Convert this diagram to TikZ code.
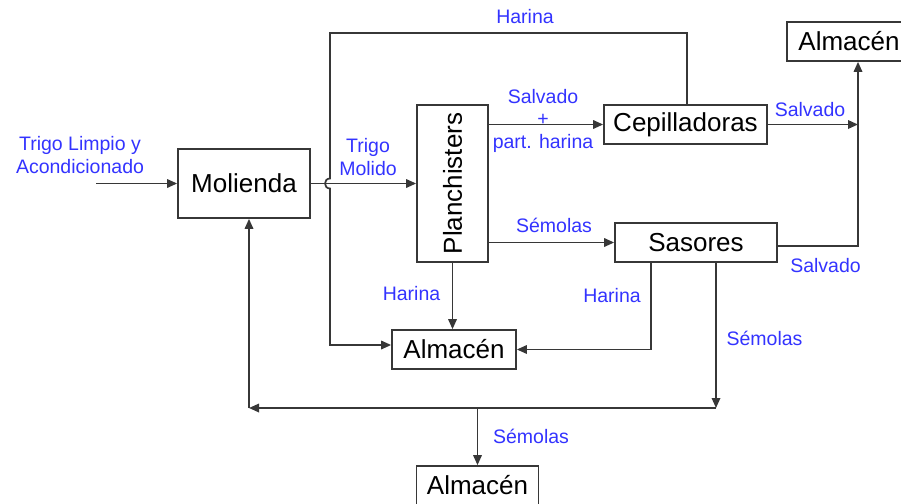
\documentclass[tikz,border=0pt]{standalone}
\usepackage{fontspec}
\setmainfont{Liberation Sans}
\usetikzlibrary{arrows.meta,calc}
\definecolor{flowblue}{RGB}{51,51,255}
\definecolor{linegray}{RGB}{55,55,55}
\begin{document}
\begin{tikzpicture}[x=1pt,y=-1pt,
  box/.style={draw=linegray, line width=1.7pt, inner sep=0pt, fill=white,
              font=\fontsize{26}{30}\selectfont},
  flow/.style={draw=linegray, line width=1.7pt},
  arr/.style={flow, -{Triangle[length=10pt,width=8.5pt]}},
  lbl/.style={text=flowblue, font=\fontsize{19.5}{23}\selectfont,
              inner sep=0pt, anchor=base, align=center},
]
\useasboundingbox (0,0) rectangle (901,503);

% process boxes
\node[box, minimum width=132pt, minimum height=69pt]  (mol)  at (244,183.5) {Molienda};
\node[box, minimum width=71pt,  minimum height=157pt] (pla)  at (452.5,183.5) {\rotatebox{90}{Planchisters}};
\node[box, minimum width=163pt, minimum height=39pt]  (cep)  at (685.5,124.5) {Cepilladoras};
\node[box, minimum width=162pt, minimum height=39pt]  (sas)  at (696,242.5) {Sasores};
\node[box, minimum width=124pt, minimum height=39pt]  (almM) at (454,349.5) {Almacén};
\node[box, minimum width=124pt, minimum height=39pt]  (almT) at (849,41.5) {Almacén};
\node[box, minimum width=122pt, minimum height=39pt]  (almB) at (477.5,485.5) {Almacén};

% routing points
\coordinate (in)      at (96,183.5);
\coordinate (topR)    at (687,33);
\coordinate (topL)    at (330,33);
\coordinate (jTop)    at (330,178.5);
\coordinate (jBot)    at (330,188.5);
\coordinate (loopEnd) at (330,345);
\coordinate (riser)   at (858,246);
\coordinate (hL)      at (651,349.5);
\coordinate (busR)    at (716,408);
\coordinate (busL)    at (249,408);
\coordinate (tap)     at (477.5,408);

% connectors
\draw[arr] (in) -- (mol.west);
\draw[arr] (mol.east) -- (pla.west);
\draw[arr] (topR |- cep.north) -- (topR) -- (topL) -- (jTop)
  .. controls ($(jTop)+(-6.7,0)$) and ($(jBot)+(-6.7,0)$) .. (jBot)
  -- (loopEnd) -- (loopEnd -| almM.west);
\draw[arr] (pla.east |- cep) -- (cep.west);
\draw[arr] (pla.east |- sas) -- (sas.west);
\draw[arr] (pla.south) -- (pla.south |- almM.north);
\draw[arr] (cep.east) -- (cep.east -| riser);
\draw[arr] (sas.east |- riser) -- (riser) -- (riser |- almT.south);
\draw[arr] (sas.south -| hL) -- (hL) -- (almM.east);
\draw[arr] (sas.south -| busR) -- (busR);
\draw[arr] (busR) -- (busL);
\draw[arr] (busL) -- (busL |- mol.south);
\draw[arr] (tap) -- (almB.north);

% stream labels (base = baseline of the last line)
\node[lbl] (lIn)   at (80,173)    {Trigo Limpio y\\Acondicionado};
\node[lbl] (lMol)  at (368,175)   {Trigo\\Molido};
\node[lbl] (lHar1) at (525,24)    {Harina};
\node[lbl, font=\fontsize{19.5}{22.5}\selectfont] (lSal1) at (543,148) {Salvado\\+\\part. harina};
\node[lbl] (lSem1) at (554,232)   {Sémolas};
\node[lbl] (lSal2) at (810,116)   {Salvado};
\node[lbl] (lSal3) at (825.5,272) {Salvado};
\node[lbl] (lHar2) at (411.5,300) {Harina};
\node[lbl] (lHar3) at (612,302)   {Harina};
\node[lbl] (lSem2) at (764.5,345) {Sémolas};
\node[lbl] (lSem3) at (531,443)   {Sémolas};
\end{tikzpicture}
\end{document}
